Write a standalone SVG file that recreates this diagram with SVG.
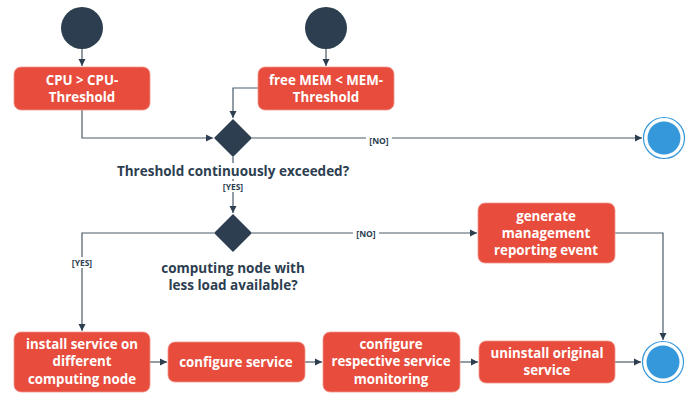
<svg xmlns="http://www.w3.org/2000/svg" width="691" height="397" viewBox="0 0 691 397">
<style>
.box{fill:#e74c3c;stroke:#f1948a;stroke-width:0.8}
.bt{font-family:"Open Sans","Liberation Sans",sans-serif;font-weight:bold;font-size:13.3px;fill:#ffffff;text-anchor:middle}
.dt{font-family:"Open Sans","Liberation Sans",sans-serif;font-weight:bold;font-size:13.5px;fill:#2c3e50;text-anchor:middle}
.lt{font-family:"Open Sans","Liberation Sans",sans-serif;font-weight:bold;font-size:8.5px;fill:#2c3e50;text-anchor:middle}
.ln{fill:none;stroke:#4a5a6a;stroke-width:1.2}
.start{fill:#2c3e50}
.dia{fill:#2c3e50}
</style>
<defs>
<marker id="ah" markerWidth="8" markerHeight="8" refX="7" refY="4" orient="auto" markerUnits="userSpaceOnUse">
<path d="M0,0.5 L7,4 L0,7.5 Z" fill="#2c3e50"/>
</marker>
</defs>
<rect width="691" height="397" fill="#ffffff"/>
<g id="connectors">
<path class="ln" d="M82,49 V66" marker-end="url(#ah)"/>
<path class="ln" d="M326,49 V66" marker-end="url(#ah)"/>
<path class="ln" d="M82,110 V138 H213" marker-end="url(#ah)"/>
<path class="ln" d="M258,88 H233 V118" marker-end="url(#ah)"/>
<path class="ln" d="M252,138 H642" marker-end="url(#ah)"/>
<path class="ln" d="M233,157 V213" marker-end="url(#ah)"/>
<path class="ln" d="M214,233 H82 V331" marker-end="url(#ah)"/>
<path class="ln" d="M252,233 H477" marker-end="url(#ah)"/>
<path class="ln" d="M615,233 H663 V340" marker-end="url(#ah)"/>
<path class="ln" d="M150,362 H167" marker-end="url(#ah)"/>
<path class="ln" d="M305,362 H322" marker-end="url(#ah)"/>
<path class="ln" d="M460,362 H478" marker-end="url(#ah)"/>
<path class="ln" d="M615,362 H641" marker-end="url(#ah)"/>
<rect x="366" y="135" width="26" height="11" fill="#ffffff"/>
<text class="lt" x="379" y="144">[NO]</text>
<rect x="221" y="181" width="24" height="11" fill="#ffffff"/>
<text class="lt" x="233" y="190">[YES]</text>
<rect x="353" y="229" width="26" height="11" fill="#ffffff"/>
<text class="lt" x="366" y="237">[NO]</text>
<rect x="70" y="257" width="24" height="11" fill="#ffffff"/>
<text class="lt" x="82" y="266">[YES]</text>
</g>
<g id="start1"><circle class="start" cx="82" cy="28" r="21"/></g>
<g id="start2"><circle class="start" cx="326" cy="28" r="21"/></g>
<g id="cpu">
<rect class="box" x="14" y="67" width="136" height="43" rx="7"/>
<text class="bt" x="82" y="85">CPU &gt; CPU-</text>
<text class="bt" x="82" y="102">Threshold</text>
</g>
<g id="mem">
<rect class="box" x="258" y="67" width="136" height="43" rx="7"/>
<text class="bt" x="326" y="85">free MEM &lt; MEM-</text>
<text class="bt" x="326" y="102">Threshold</text>
</g>
<g id="decision1">
<path class="dia" d="M233,119 L252,138 L233,157 L214,138 Z"/>
<rect x="115" y="163" width="237" height="16" fill="#ffffff"/>
<text class="dt" x="233" y="176">Threshold continuously exceeded?</text>
</g>
<g id="end1">
<circle cx="664" cy="138" r="20.5" fill="#ffffff" stroke="#3498db" stroke-width="1.2"/>
<circle cx="664" cy="138" r="16.5" fill="#3498db"/>
</g>
<g id="decision2">
<path class="dia" d="M233,214 L252,233 L233,252 L214,233 Z"/>
<text class="dt" x="233" y="273">computing node with</text>
<text class="dt" x="233" y="290">less load available?</text>
</g>
<g id="generate">
<rect class="box" x="478" y="203" width="137" height="60" rx="7"/>
<text class="bt" x="546" y="221">generate</text>
<text class="bt" x="546" y="238">management</text>
<text class="bt" x="546" y="255">reporting event</text>
</g>
<g id="install">
<rect class="box" x="14" y="332" width="136" height="60" rx="7"/>
<text class="bt" x="82" y="349">install service on</text>
<text class="bt" x="82" y="366">different</text>
<text class="bt" x="82" y="384">computing node</text>
</g>
<g id="configure">
<rect class="box" x="168" y="342" width="137" height="40" rx="7"/>
<text class="bt" x="236" y="367">configure service</text>
</g>
<g id="monitoring">
<rect class="box" x="323" y="332" width="137" height="60" rx="7"/>
<text class="bt" x="391" y="349">configure</text>
<text class="bt" x="391" y="366">respective service</text>
<text class="bt" x="391" y="384">monitoring</text>
</g>
<g id="uninstall">
<rect class="box" x="479" y="341" width="136" height="42" rx="7"/>
<text class="bt" x="547" y="358">uninstall original</text>
<text class="bt" x="547" y="375">service</text>
</g>
<g id="end2">
<circle cx="663" cy="362" r="20.5" fill="#ffffff" stroke="#3498db" stroke-width="1.2"/>
<circle cx="663" cy="362" r="16.5" fill="#3498db"/>
</g>
</svg>
